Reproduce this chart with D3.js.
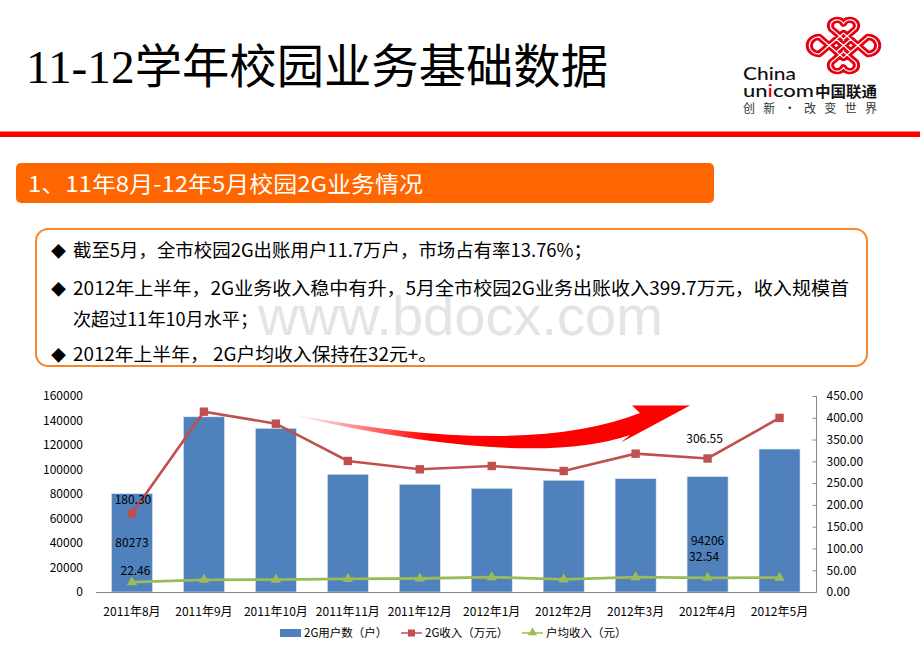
<!DOCTYPE html>
<html><head><meta charset="utf-8">
<script src="https://cdn.jsdelivr.net/npm/d3@7/dist/d3.min.js"></script>
<style>
html,body{margin:0;padding:0;background:#fff;}
svg{display:block;}
</style></head>
<body>
<svg id="c" width="920" height="671"></svg>
<script>
// ---- data ----
const categories = ["2011年8月","2011年9月","2011年10月","2011年11月","2011年12月","2012年1月","2012年2月","2012年3月","2012年4月","2012年5月"];
const users   = [80273,143000,133600,96100,87900,84650,91200,92500,94206,116700];   // 2G用户数（户）
const revenue = [180.30,414.0,386.4,300.8,281.7,289.3,277.8,317.6,306.55,399.7];      // 2G收入（万元）
const arpu    = [22.46,28.0,28.5,30.0,31.0,34.0,29.0,34.0,32.54,33.0];               // 户均收入（元）
const leftTicks  = [0,20000,40000,60000,80000,100000,120000,140000,160000];
const rightTicks = [0,50,100,150,200,250,300,350,400,450];
const seriesNames = ["2G用户数（户）","2G收入（万元）","户均收入（元）"];
const titleText = "11-12学年校园业务基础数据";
const bannerText = "1、11年8月-12年5月校园2G业务情况";
const bullets = [
  "截至5月，全市校园2G出账用户11.7万户，市场占有率13.76%；",
  "2012年上半年，2G业务收入稳中有升，5月全市校园2G业务出账收入399.7万元，收入规模首",
  "次超过11年10月水平；",
  "2012年上半年， 2G户均收入保持在32元+。"
];
// labels shown in the chart: [series, index]
const shownLabels = [["revenue",0],["users",0],["arpu",0],["revenue",8],["users",8],["arpu",8]];

const svg = d3.select("#c");
const CJK = "'Noto Sans CJK SC','Noto Sans',sans-serif";
const BLUE="#4F81BD", RED="#C0504D", GREEN="#9BBB59";

// ---- header ----
svg.append("text").attr("x",26).attr("y",83)
  .attr("font-family","'Liberation Serif','Noto Sans CJK SC',serif")
  .attr("font-size",47).attr("fill","#000")
  .attr("textLength",582).attr("lengthAdjust","spacingAndGlyphs")
  .text(titleText);
svg.append("rect").attr("x",0).attr("y",131.5).attr("width",920).attr("height",5.5).attr("fill","#FF0000");

// logo
const logo = svg.append("g");
const lr="#E60012";
const knot = "M845,40 L834,29 A7.5,7.5 0 1 1 845,20 A7.5,7.5 0 1 1 856,29 L845,40" +
  " M845,56 L834,67 A7.5,7.5 0 1 0 845,76 A7.5,7.5 0 1 0 856,67 L845,56" +
  " M829,48 L818,37 A7.5,7.5 0 1 0 818,59 L829,48" +
  " M861,48 L872,37 A7.5,7.5 0 1 1 872,59 L861,48" +
  " M829,48 L845,32 L861,48 L845,64 Z" +
  " M837,40 L853,56 M853,40 L837,56";
const kg = logo.append("g").attr("transform","translate(843.5,45.5) scale(0.9,0.78) translate(-845,-48)");
kg.append("path").attr("d",knot).attr("fill","none").attr("stroke",lr).attr("stroke-width",8).attr("stroke-linejoin","round");
kg.append("path").attr("d",knot).attr("fill","none").attr("stroke","#fff").attr("stroke-width",1.4).attr("stroke-linejoin","round");
logo.append("text").attr("x",743).attr("y",79.5).attr("font-family","'Lato','Open Sans',sans-serif")
  .attr("font-size",16.5).attr("font-weight",500).attr("fill","#111").attr("textLength",53).attr("lengthAdjust","spacingAndGlyphs").text("China");
const uni = logo.append("text").attr("x",743).attr("y",97).attr("font-family","'Lato','Open Sans',sans-serif")
  .attr("font-size",16.5).attr("font-weight",500).attr("fill","#111").attr("textLength",71).attr("lengthAdjust","spacingAndGlyphs");
uni.append("tspan").text("un");
uni.append("tspan").attr("fill",lr).text("i");
uni.append("tspan").text("com");
logo.append("text").attr("x",815).attr("y",97).attr("font-family",CJK).attr("font-size",15).attr("font-weight",700)
  .attr("fill","#111").attr("textLength",62).attr("lengthAdjust","spacingAndGlyphs").text("中国联通");
logo.append("text").attr("x",743).attr("y",113).attr("font-family",CJK).attr("font-size",12)
  .attr("fill","#333").attr("textLength",134).attr("lengthAdjust","spacing").text("创新·改变世界");

// banner
svg.append("rect").attr("x",16).attr("y",163).attr("width",698).attr("height",40).attr("rx",5).attr("fill","#FF6600");
svg.append("text").attr("x",28).attr("y",192).attr("font-family",CJK).attr("font-size",22).attr("fill","#fff")
  .attr("textLength",395).attr("lengthAdjust","spacingAndGlyphs").text(bannerText);

// text box
svg.append("rect").attr("x",36).attr("y",229).attr("width",831).attr("height",137).attr("rx",12)
  .attr("fill","#fff").attr("stroke","#F7862A").attr("stroke-width",2);
// watermark
svg.append("text").attr("x",258).attr("y",335).attr("font-family","'Liberation Sans',Arial,sans-serif")
  .attr("font-size",55).attr("fill","#e4e4e4").attr("textLength",405).attr("lengthAdjust","spacingAndGlyphs").text("www.bdocx.com");
const lineY=[257,294.5,326,360.5], lineW=[519,776,185,364], hasBullet=[true,true,false,true];
bullets.forEach((t,i)=>{
  if(hasBullet[i]) svg.append("text").attr("x",51).attr("y",lineY[i]).attr("font-family",CJK).attr("font-size",15).attr("fill","#000").text("◆");
  svg.append("text").attr("x",73).attr("y",lineY[i]).attr("font-family",CJK).attr("font-size",18).attr("fill","#000")
    .attr("textLength",lineW[i]).attr("lengthAdjust","spacingAndGlyphs").text(t);
});

// ---- chart ----
const x = d3.scaleBand().domain(categories).range([96,815.5]).paddingInner(0.43).paddingOuter(0.215);
const yL = d3.scaleLinear().domain([0,160000]).range([592,396]);
const yR = d3.scaleLinear().domain([0,450]).range([592,396]);
const cx = c => x(c)+x.bandwidth()/2;
const FS=12;

// bars
svg.append("g").selectAll("rect").data(users).join("rect")
  .attr("x",(d,i)=>x(categories[i])).attr("y",d=>yL(d))
  .attr("width",x.bandwidth()).attr("height",d=>yL(0)-yL(d))
  .attr("fill",BLUE).attr("stroke","#dce6f2").attr("stroke-width",0.6);

// axes
svg.append("line").attr("x1",96).attr("x2",816.5).attr("y1",592.5).attr("y2",592.5).attr("stroke","#888").attr("stroke-width",1);
svg.append("line").attr("x1",816.5).attr("x2",816.5).attr("y1",396).attr("y2",592.5).attr("stroke","#888").attr("stroke-width",1);
const gl = svg.append("g").attr("transform","translate(83,0)")
  .call(d3.axisLeft(yL).tickValues(leftTicks).tickSize(0).tickPadding(0).tickFormat(d3.format("d")));
gl.select(".domain").remove();
const gr = svg.append("g").attr("transform","translate(816.5,0)")
  .call(d3.axisRight(yR).tickValues(rightTicks).tickSizeInner(-4).tickSizeOuter(0).tickPadding(10).tickFormat(d3.format(".2f")));
gr.select(".domain").remove();
gr.selectAll(".tick line").attr("stroke","#888");
const gb = svg.append("g").attr("transform","translate(0,592)")
  .call(d3.axisBottom(x).tickSize(0).tickPadding(15));
gb.select(".domain").remove();
[gl,gr,gb].forEach(g=>g.selectAll("text").attr("font-family",CJK).attr("font-size",FS).attr("fill","#000"));

// arrow (decorative swoosh)
const defs = svg.append("defs");
const grad = defs.append("linearGradient").attr("id","ag").attr("gradientUnits","userSpaceOnUse")
  .attr("x1",295).attr("y1",0).attr("x2",430).attr("y2",0);
grad.append("stop").attr("offset",0).attr("stop-color","#FF0000").attr("stop-opacity",0);
grad.append("stop").attr("offset",1).attr("stop-color","#FF0000").attr("stop-opacity",1);
const ap = d3.path();
ap.moveTo(297,415); ap.quadraticCurveTo(525,458,640,413);
ap.lineTo(632,405.5); ap.lineTo(690,405.5); ap.lineTo(621,442.5); ap.lineTo(630,435);
ap.quadraticCurveTo(531,469,297,416.5); ap.closePath();
svg.append("path").attr("d",ap.toString()).attr("fill","url(#ag)");

// revenue line
const lineR = d3.line().x((d,i)=>cx(categories[i])).y(d=>yR(d));
svg.append("path").attr("d",lineR(revenue)).attr("fill","none").attr("stroke",RED).attr("stroke-width",2.6);
svg.append("g").selectAll("rect").data(revenue).join("rect")
  .attr("x",(d,i)=>cx(categories[i])-4.2).attr("y",d=>yR(d)-4.2).attr("width",8.4).attr("height",8.4).attr("fill",RED);
// arpu line
svg.append("path").attr("d",lineR(arpu)).attr("fill","none").attr("stroke",GREEN).attr("stroke-width",2.8);
const tri = d3.symbol().type(d3.symbolTriangle).size(48);
svg.append("g").selectAll("path").data(arpu).join("path")
  .attr("d",tri).attr("transform",(d,i)=>`translate(${cx(categories[i])},${yR(d)})`).attr("fill",GREEN);

// data labels
const lblOff = {revenue:[1,-13.5], users:[0,0], arpu:[3.5,-11.5]};
const lblOff8 = {revenue:[-3,-20], users:[0,7], arpu:[-3.5,-21]};
shownLabels.forEach(([s,i])=>{
  const off = i===8 ? lblOff8[s] : lblOff[s];
  let px = cx(categories[i]), py, txt;
  if(s==="users"){ py=(yL(users[i])+yL(0))/2; txt=d3.format("d")(users[i]); }
  else if(s==="revenue"){ py=yR(revenue[i]); txt=d3.format(".2f")(revenue[i]); }
  else { py=yR(arpu[i]); txt=d3.format(".2f")(arpu[i]); }
  svg.append("text").attr("x",px+off[0]).attr("y",py+off[1]).attr("dy","0.35em").attr("text-anchor","middle")
    .attr("font-family",CJK).attr("font-size",FS).attr("fill","#000").text(txt);
});

// legend
const lg = svg.append("g").attr("font-family",CJK).attr("font-size",11.5);
lg.append("rect").attr("x",280).attr("y",629).attr("width",21).attr("height",8).attr("fill",BLUE);
lg.append("text").attr("x",304).attr("y",633).attr("dy","0.35em").text(seriesNames[0]);
lg.append("line").attr("x1",401).attr("x2",422).attr("y1",633).attr("y2",633).attr("stroke",RED).attr("stroke-width",1.5);
lg.append("rect").attr("x",408).attr("y",629.5).attr("width",7).attr("height",7).attr("fill",RED);
lg.append("text").attr("x",425).attr("y",633).attr("dy","0.35em").text(seriesNames[1]);
lg.append("line").attr("x1",522).attr("x2",543).attr("y1",633).attr("y2",633).attr("stroke",GREEN).attr("stroke-width",1.5);
lg.append("path").attr("d",d3.symbol().type(d3.symbolTriangle).size(36)).attr("transform","translate(532.5,632.5)").attr("fill",GREEN);
lg.append("text").attr("x",546).attr("y",633).attr("dy","0.35em").text(seriesNames[2]);
</script>
</body></html>
